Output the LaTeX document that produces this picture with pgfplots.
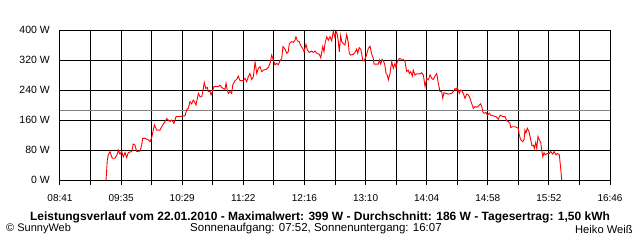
\documentclass[border=0pt]{standalone}
\usepackage{fontspec}
\setmainfont{Liberation Sans}
\usepackage{pgfplots}
\usepackage{pgfplotstable}
\pgfplotsset{compat=1.18}
\pgfplotstableread{
m W
40.6 0
41.7 53
42.6 67
44.1 76
46.1 58
48.5 58
50.5 69
51.4 80
52.9 69
54.4 76
55.8 62
57.3 73
58.8 60
60.2 73
63.2 76
64.6 96
66.1 93
67.6 76
70.5 77
72.0 93
72.9 111
75.0 111
77.9 107
79.4 102
80.9 114
82.3 133
83.2 147
85.3 133
88.2 133
89.7 142
92.6 156
94.1 164
95.5 160
97.0 156
98.5 160
100.5 151
102.3 169
105.8 169
108.2 171
110.2 171
111.7 187
113.1 191
114.6 209
116.1 203
117.5 213
118.2 211
119.9 200
122.0 231
123.5 222
125.0 222
126.4 244
127.2 260
128.5 244
129.9 247
130.8 236
132.3 236
133.2 227
134.7 240
135.8 249
139.6 249
141.1 253
142.6 247
144.0 244
145.5 242
146.4 258
147.5 240
148.4 231
149.9 236
151.4 231
152.3 253
154.3 265
155.8 268
157.2 277
158.7 265
161.6 265
163.1 271
164.6 262
166.0 275
167.5 284
169.0 268
170.5 275
172.0 315
173.5 284
174.9 298
176.4 302
177.9 289
179.3 293
181.7 295
183.7 300
185.2 311
186.7 333
188.1 320
189.6 307
191.1 311
192.5 307
194.0 318
195.5 324
196.6 356
198.4 349
199.9 338
201.3 342
202.2 364
204.3 369
205.7 367
207.2 373
208.1 382
209.3 371
211.0 369
212.3 358
214.0 351
215.2 342
216.9 362
218.1 347
219.8 340
222.0 344
223.4 340
224.9 344
226.4 338
228.7 335
229.9 326
231.7 356
232.8 342
233.7 364
235.2 382
236.6 373
238.1 382
239.6 371
241.0 397
242.5 380
243.4 397
244.5 388
245.4 369
246.3 342
247.5 385
248.4 369
249.8 364
251.3 360
252.8 388
254.2 367
255.1 338
256.3 333
258.6 335
260.1 340
261.6 349
262.5 338
263.9 353
265.4 347
266.9 320
268.1 317
269.8 329
271.9 351
273.4 357
274.9 335
276.3 324
276.9 309
280.7 309
281.6 320
282.8 309
284.0 322
285.1 318
286.3 309
287.5 284
288.6 280
289.5 267
291.0 284
292.5 316
293.9 298
295.4 311
296.3 300
297.4 316
299.2 324
301.3 322
302.7 322
304.2 316
305.7 289
307.1 293
308.0 284
309.3 289
310.7 277
311.5 293
313.0 280
314.5 283
317.5 283
318.9 286
320.4 280
321.9 249
323.4 271
324.8 267
326.3 280
327.8 271
329.2 268
330.7 277
332.2 284
333.6 258
335.1 236
336.6 236
337.5 218
338.6 233
340.4 231
342.4 229
345.4 231
346.8 236
348.3 244
349.2 240
350.3 247
352.1 231
353.3 240
354.2 238
355.6 231
357.1 218
358.6 229
360.1 227
361.5 218
363.0 204
364.5 191
366.0 196
367.4 194
368.9 197
371.0 203
372.1 194
372.8 182
373.9 178
375.7 180
376.8 173
378.6 178
379.8 173
382.1 171
384.5 169
386.5 162
387.4 169
388.6 173
390.4 169
392.4 169
393.9 158
395.3 156
396.8 151
397.4 140
399.2 142
401.2 142
402.7 140
404.1 138
405.0 120
406.3 107
408.0 102
409.2 108
410.0 133
410.9 126
412.1 138
413.6 129
415.1 107
416.2 91
417.4 93
418.3 84
419.5 100
420.4 84
421.5 116
422.7 107
423.9 100
424.8 80
425.7 62
426.8 73
427.7 67
429.7 71
431.5 71
432.7 76
434.5 69
435.6 76
437.4 67
438.5 71
440.3 67
441.5 31
442.4 0
}\power
\begin{document}
\fontsize{10.5bp}{12bp}\selectfont
\begin{tikzpicture}[x=1bp,y=1bp]
\useasboundingbox (-60,-60) rectangle (580,180);
\begin{axis}[
  at={(0,0)}, anchor=south west,
  scale only axis, width=550bp, height=150bp,
  xmin=0, xmax=485, ymin=0, ymax=400,
  xtick={0,53.889,107.778,161.667,215.556,269.444,323.333,377.222,431.111,485},
  xticklabels={08:41,09:35,10:29,11:22,12:16,13:10,14:04,14:58,15:52,16:46},
  minor xtick={26.944,80.833,134.722,188.611,242.5,296.389,350.278,404.167,458.056},
  ytick={0,80,160,240,320,400},
  yticklabel={\pgfmathprintnumber{\tick} W},
  /pgf/number format/assume math mode=true,
  grid=both,
  major grid style={black, line width=1bp},
  minor grid style={black, line width=1bp},
  axis line style={black, line width=1bp},
  tick align=outside,
  xtick pos=bottom, ytick pos=left,
  xtick style={black, line width=1bp},
  minor tick style={black, line width=1bp},
  ytick style={draw=none},
  major tick length=5bp, minor tick length=5bp,
  yticklabel style={inner sep=0pt, anchor=east, xshift=-5bp, font=\fontsize{10.5bp}{12bp}\selectfont},
  xticklabel style={inner sep=0pt, anchor=north, yshift=-9bp, font=\fontsize{10bp}{12bp}\selectfont},
  clip=false,
]
\addplot[gray, line width=1bp] coordinates {(0,186) (485,186)};
\addplot[red, line width=0.9bp] table[x=m, y=W] {\power};
\end{axis}
\node[font=\bfseries\fontsize{12bp}{14bp}\selectfont] at (260,-37) {Leistungsverlauf vom 22.01.2010 - Maximalwert: 399 W - Durchschnitt: 186 W - Tagesertrag: 1,50 kWh};
\node[anchor=west, inner sep=0pt, font=\fontsize{11bp}{13bp}\selectfont] at (-54,-49) {© SunnyWeb};
\node[inner sep=0pt, font=\fontsize{11.5bp}{13bp}\selectfont] at (256,-49) {Sonnenaufgang: 07:52, Sonnenuntergang: 16:07};
\node[anchor=east, inner sep=0pt, font=\fontsize{11.2bp}{13bp}\selectfont] at (573,-49) {Heiko Weiß};
\end{tikzpicture}
\end{document}
